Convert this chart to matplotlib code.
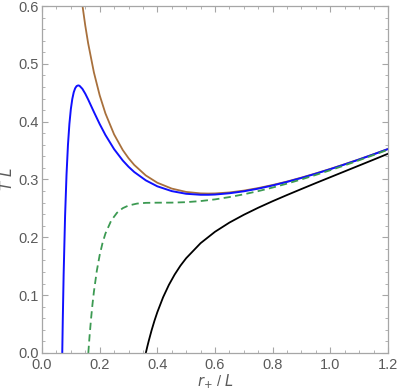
import matplotlib
matplotlib.use("Agg")
import matplotlib.pyplot as plt
from matplotlib.ticker import MultipleLocator

# r+/L grid values and T L
r_brown = [0.14, 0.15, 0.16, 0.18, 0.20, 0.22, 0.25, 0.28, 0.30, 0.32, 0.36, 0.40,
           0.45, 0.50, 0.55, 0.577, 0.60, 0.65, 0.70, 0.75, 0.80, 0.85, 0.90, 0.95,
           1.00, 1.05, 1.10, 1.15, 1.20]
t_brown = [0.6018, 0.5663, 0.5356, 0.4851, 0.4456, 0.4142, 0.3780, 0.3510, 0.3369,
           0.3251, 0.3070, 0.2944, 0.2843, 0.2785, 0.2760, 0.2757, 0.2759, 0.2776,
           0.2808, 0.2852, 0.2905, 0.2965, 0.3033, 0.3106, 0.3183, 0.3265, 0.3349,
           0.3437, 0.3528]

r_blue = [0.0702, 0.072, 0.075, 0.08, 0.085, 0.09, 0.095, 0.10, 0.105, 0.11, 0.115,
          0.12, 0.1255, 0.13, 0.14, 0.15, 0.16, 0.18, 0.20, 0.22, 0.25, 0.28, 0.30,
          0.32, 0.36, 0.40, 0.45, 0.50, 0.55, 0.577, 0.60, 0.65, 0.70, 0.75, 0.80,
          0.85, 0.90, 0.95, 1.00, 1.05, 1.10, 1.15, 1.20]
t_blue = [0.0, 0.0564, 0.1358, 0.2367, 0.3086, 0.3599, 0.3963, 0.4218, 0.4392,
          0.4508, 0.4578, 0.4615, 0.4627, 0.4621, 0.4568, 0.4484, 0.4384, 0.4168,
          0.3959, 0.3769, 0.3525, 0.3329, 0.3221, 0.3129, 0.2985, 0.2882, 0.2799,
          0.2753, 0.2736, 0.2736, 0.2740, 0.2762, 0.2796, 0.2842, 0.2897, 0.2959,
          0.3027, 0.3101, 0.3179, 0.3261, 0.3346, 0.3435, 0.3526]

r_green = [0.1606, 0.163, 0.165, 0.17, 0.175, 0.18, 0.19, 0.20, 0.21, 0.22, 0.24,
           0.26, 0.28, 0.30, 0.33, 0.36, 0.40, 0.45, 0.50, 0.55, 0.60, 0.65, 0.70,
           0.75, 0.80, 0.85, 0.90, 0.95, 1.00, 1.05, 1.10, 1.15, 1.20]
t_green = [0.0, 0.0167, 0.0296, 0.0588, 0.0841, 0.1060, 0.1419, 0.1693, 0.1904,
           0.2066, 0.2290, 0.2424, 0.2504, 0.2550, 0.2584, 0.2596, 0.2599, 0.2600,
           0.2608, 0.2627, 0.2656, 0.2696, 0.2744, 0.2799, 0.2861, 0.2929, 0.3002,
           0.3080, 0.3161, 0.3245, 0.3333, 0.3423, 0.3515]

r_black = [0.36, 0.365, 0.37, 0.38, 0.39, 0.40, 0.42, 0.44, 0.46, 0.48, 0.50, 0.55,
           0.60, 0.65, 0.70, 0.75, 0.80, 0.85, 0.90, 0.95, 1.00, 1.05, 1.10, 1.15,
           1.20]
t_black = [0.0, 0.0106, 0.0206, 0.0391, 0.0557, 0.0706, 0.0964, 0.1177, 0.1356,
           0.1509, 0.1639, 0.1899, 0.2096, 0.2255, 0.2390, 0.2512, 0.2625, 0.2732,
           0.2836, 0.2939, 0.3040, 0.3141, 0.3242, 0.3343, 0.3445]

plt.rcParams["font.family"] = ["Liberation Sans", "DejaVu Sans"]

fig = plt.figure(figsize=(3.99, 3.90), dpi=100)
ax = fig.add_axes([0.1053, 0.0949, 0.8671, 0.8897])

ax.plot(r_brown, t_brown, color="#a8703c", lw=1.3)
ax.plot(r_blue, t_blue, color="#1010ff", lw=1.4)
ax.plot(r_green, t_green, color="#3c9a52", lw=1.3, dashes=(4, 2.4))
ax.plot(r_black, t_black, color="black", lw=1.3)

ax.set_xlim(0, 1.2)
ax.set_ylim(0, 0.6)
ax.xaxis.set_major_locator(MultipleLocator(0.2))
ax.xaxis.set_minor_locator(MultipleLocator(0.05))
ax.yaxis.set_major_locator(MultipleLocator(0.1))
ax.yaxis.set_minor_locator(MultipleLocator(0.02))
ax.xaxis.set_major_formatter(lambda v, p: f"{v:.1f}")
ax.yaxis.set_major_formatter(lambda v, p: f"{v:.1f}")

for s in ax.spines.values():
    s.set_color("#a6a6a6")
    s.set_linewidth(0.9)
ax.tick_params(which="both", direction="in", top=True, right=True,
               color="#a6a6a6", labelcolor="#5a5a5a", labelsize=10.5)
ax.tick_params(which="major", length=4.5, width=0.8)
ax.tick_params(which="minor", length=2.5, width=0.6)
ax.tick_params(axis="x", which="major", pad=3.5)
ax.tick_params(axis="y", which="major", pad=2.5)

ax.set_xlabel(r"$r_{+}$ / $L$", fontsize=10.5, color="#5a5a5a", labelpad=0)
ax.set_ylabel(r"$T\ L$", fontsize=11, color="#5a5a5a", labelpad=2)

fig.savefig("out.png", dpi=100)
